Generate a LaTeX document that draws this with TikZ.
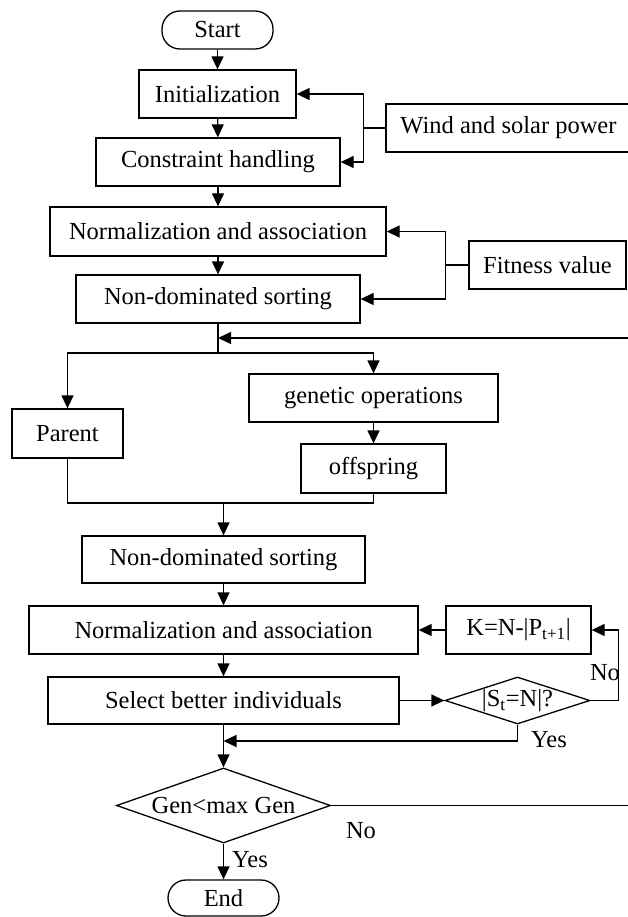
\documentclass[tikz,border=0pt]{standalone}
\usepackage{fontspec}
\setmainfont{Liberation Serif}
\usetikzlibrary{shapes.geometric,arrows.meta}
\tikzset{proc/.style = {draw, rectangle, line width=1.3pt, inner sep=0, font=\fontsize{24.5}{28}\selectfont}}
\tikzset{term/.style = {proc, rounded corners=18pt}}
\tikzset{decis/.style = {draw, diamond, aspect=3, line width=1.3pt, inner sep=0, font=\fontsize{24.5}{28}\selectfont}}
\tikzset{ln/.style = {line width=1.3pt}}
\tikzset{arr/.style = {ln, -{Triangle[length=13pt,width=12pt]}}}
\tikzset{lbl/.style = {inner sep=0, font=\fontsize{24.5}{28}\selectfont}}

\begin{document}
\begin{tikzpicture}[x=1pt, y=-1pt]
      \useasboundingbox (0,0) rectangle (627,917);
      \node [term, minimum width=111, minimum height=38] (start) at (217.5, 30) {Start};
      \node [proc, minimum width=157, minimum height=48] (init) at (217.5, 94) {Initialization};
      \node [proc, minimum width=244, minimum height=48] (cons) at (218, 162) {Constraint handling};
      \node [proc, minimum width=245, minimum height=48] (wind) at (508.5, 128) {Wind and solar power};
      \node [proc, minimum width=336, minimum height=49] (norm1) at (218, 231.5) {Normalization and association};
      \node [proc, minimum width=284, minimum height=48] (nds1) at (218, 299) {Non-dominated sorting};
      \node [proc, minimum width=157, minimum height=48] (fit) at (547.5, 265) {Fitness value};
      \node [proc, minimum width=249, minimum height=48] (genop) at (373.5, 398) {genetic operations};
      \node [proc, minimum width=111, minimum height=49] (parent) at (67.5, 433.5) {Parent};
      \node [proc, minimum width=145, minimum height=49] (off) at (373.5, 468.5) {offspring};
      \node [proc, minimum width=283, minimum height=47] (nds2) at (223.5, 559.5) {Non-dominated sorting};
      \node [proc, minimum width=389, minimum height=48] (norm2) at (223.5, 630) {Normalization and association};
      \node [proc, minimum width=145, minimum height=48] (kbox) at (518.5, 630) {K=N-|P\textsubscript{t+1}|};
      \node [proc, minimum width=351, minimum height=47] (sel) at (223.5, 700.5) {Select better individuals};
      \node [decis, minimum width=145, minimum height=47] (stcheck) at (517.5, 700.5) {|S\textsubscript{t}=N|?};
      \node [decis, minimum width=214, minimum height=75] (gencheck) at (223.5, 805.5) {Gen<max Gen};
      \node [term, minimum width=111, minimum height=36] (end) at (223.5, 898) {End};
      \coordinate (back) at (218, 338);
      \coordinate (split) at (218, 353);
      \coordinate (merge) at (223.5, 503);
      \coordinate (join) at (223.5, 741);
      % main flow
      \draw [arr] (start) -- (init);
      \draw [arr] (init) -- (cons);
      \draw [arr] (cons) -- (norm1);
      \draw [arr] (norm1) -- (nds1);
      \draw [ln] (wind.west) -- ++(-22, 0) coordinate (wj);
      \draw [arr] (wj) |- (init.east);
      \draw [arr] (wj) |- (cons.east);
      \draw [ln] (fit.west) -- ++(-23, 0) coordinate (fj);
      \draw [arr] (fj) |- (norm1.east);
      \draw [arr] (fj) |- (nds1.east);
      \draw [ln] (nds1) -- (split);
      \draw [arr] (split) -| (parent);
      \draw [arr] (split) -| (genop);
      \draw [arr] (genop) -- (off);
      \draw [ln] (parent.south) |- (merge) -| (off.south);
      \draw [arr] (merge) -- (nds2);
      \draw [arr] (nds2) -- (norm2);
      \draw [arr] (norm2) -- (sel);
      \draw [arr] (sel) -- (stcheck);
      \draw [arr] (stcheck.east) -- ++(28, 0) |- (kbox.east);
      \draw [arr] (kbox) -- (norm2);
      \draw [arr] (stcheck.south) |- (join);
      \draw [arr] (sel) -- (gencheck);
      \draw [arr] (gencheck) -- (end);
      \draw [arr] (gencheck.east) -- (660, 805.5) |- (back);
      \node [lbl] (no1) at (605, 673) {No};
      \node [lbl] (yes1) at (549, 740) {Yes};
      \node [lbl] (no2) at (361, 831) {No};
      \node [lbl, anchor=west] (yes2) at (232, 860) {Yes};
    \end{tikzpicture}
\end{document}
